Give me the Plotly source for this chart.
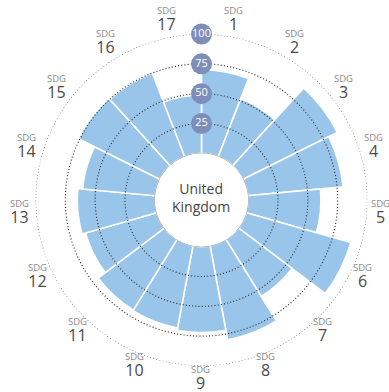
import math
import numpy as np
import plotly.graph_objects as go

# SDG scores for the United Kingdom (0-100)
goals = [str(i) for i in range(1, 18)]
scores = [70, 52, 88, 80, 61, 91, 56, 80, 72, 70, 69.5, 62, 65, 61, 76, 75, 49]
ring_values = [25, 50, 75, 100]
ring_labels = ["25", "50", "75", "100"]
country = "United Kingdom"

W, H = 389, 392
CX, CY = 201.5, 200.0       # chart centre in pixels
R_OUT = 166.0               # radius of the 100 ring in pixels
HOLE = 0.281
LAB_CX, LAB_CY = 200.0, 196.0   # centre used for the goal labels

n = len(goals)
step = 360.0 / n
theta = [(i + 0.5) * step for i in range(n)]

fig = go.Figure()

fig.add_trace(go.Barpolar(
    r=scores, theta=theta, width=[step] * n,
    marker=dict(color="#99c5ea", line=dict(color="white", width=1.6)),
    hoverinfo="skip",
))

ring_theta = np.linspace(0, 360, 721)
for v in ring_values:
    fig.add_trace(go.Scatterpolar(
        r=[v] * len(ring_theta), theta=ring_theta, mode="lines",
        line=dict(color="#555555" if v == 100 else "#2f2f2f",
                  width=1.2, dash="1px,2.2px"),
        hoverinfo="skip", cliponaxis=False,
    ))

# outline of the centre disc
fig.add_trace(go.Scatterpolar(
    r=[0] * len(ring_theta), theta=ring_theta, mode="lines",
    line=dict(color="#8a8a8a", width=1),
    hoverinfo="skip", cliponaxis=False,
))

# radial value badges on the 12 o'clock line
fig.add_trace(go.Scatterpolar(
    r=ring_values, theta=[0] * len(ring_values), mode="markers+text",
    text=ring_labels, textposition="middle center",
    marker=dict(size=21, color="#7d8fb9"),
    textfont=dict(color="white", size=11, family="Open Sans"),
    hoverinfo="skip", cliponaxis=False,
))

annotations = []
for g, t in zip(goals, theta):
    a = math.radians(t)
    rr = 181.0 - 1.2 * math.cos(a)
    px = LAB_CX + rr * math.sin(a)
    py = LAB_CY - rr * math.cos(a)
    annotations.append(dict(
        x=px / W, y=1 - py / H, xref="paper", yref="paper",
        text=("<span style='font-size:9.5px;fill:#8a8a8a'>SDG</span><br>"
              f"<span style='font-size:16px'>{g}</span>"),
        showarrow=False, align="center",
        font=dict(size=12.5, color="#4a4a4a", family="Open Sans"),
        xanchor="center", yanchor="middle",
    ))

annotations.append(dict(
    x=CX / W, y=1 - (CY - 3) / H, xref="paper", yref="paper",
    text="United<br>Kingdom", showarrow=False,
    font=dict(size=14, color="#444444", family="Open Sans"),
    xanchor="center", yanchor="middle",
))

fig.update_layout(
    width=W, height=H,
    margin=dict(l=0, r=0, t=0, b=0),
    paper_bgcolor="white",
    showlegend=False,
    polar=dict(
        domain=dict(x=[(CX - R_OUT) / W, (CX + R_OUT) / W],
                    y=[1 - (CY + R_OUT) / H, 1 - (CY - R_OUT) / H]),
        hole=HOLE,
        bgcolor="white",
        radialaxis=dict(visible=False, range=[0, 100]),
        angularaxis=dict(rotation=90, direction="clockwise",
                         showticklabels=False, showgrid=False,
                         showline=False, ticks=""),
    ),
    annotations=annotations,
)

fig.write_html("out.html")
